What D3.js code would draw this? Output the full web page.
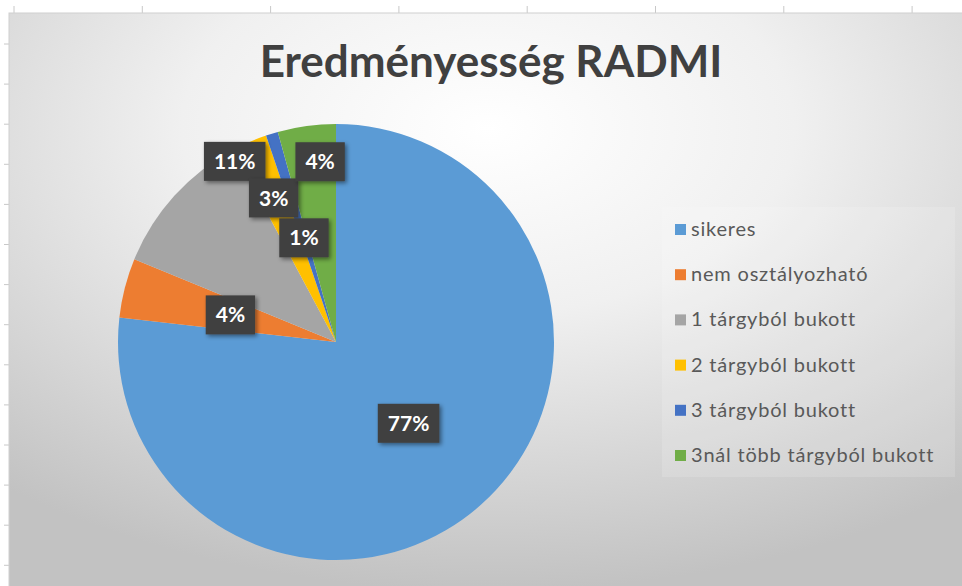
<html>
    <head>
        <meta charset="utf-8">
        <style>
            body { margin: 0; background: #ffffff; }
        </style>
    </head>
    <body>
        <svg id="cont" width="962" height="586"></svg>

        <script src="https://cdn.jsdelivr.net/npm/d3@7"></script>
        <script>
            // chart data
            var title = "Eredményesség RADMI";
            var categories = ["sikeres", "nem osztályozható", "1 tárgyból bukott", "2 tárgyból bukott", "3 tárgyból bukott", "3nál több tárgyból bukott"];
            var values = [76.8, 4.4, 11.0, 2.6, 0.9, 4.3];
            var colors = ["#5b9bd5", "#ed7d31", "#a5a5a5", "#ffc000", "#4472c4", "#70ad47"];

            // where each data label sits (Excel "best fit" nudges)
            var labelRadius = [0.5, 0.5, 0.95, 0.72, 0.5, 0.83];
            var labelShift = [0, 0, 18.6, 0, 0, 2.7];

            var svg = d3.select("#cont");
            var W = 962, H = 586;
            var chartX = 9, chartY = 13;

            var defs = svg.append("defs");
            var grad = defs.append("radialGradient")
                    .attr("id", "bg")
                    .attr("cx", 0.5).attr("cy", 0.2).attr("r", 0.8)
                    .attr("fx", 0.5).attr("fy", 0.2);
            grad.append("stop").attr("offset", "0%").attr("stop-color", "#ffffff");
            grad.append("stop").attr("offset", "40%").attr("stop-color", "#f0f0f0");
            grad.append("stop").attr("offset", "100%").attr("stop-color", "#c2c2c2");

            var shadow = defs.append("filter").attr("id", "lblShadow")
                    .attr("x", "-30%").attr("y", "-30%").attr("width", "160%").attr("height", "160%");
            shadow.append("feDropShadow")
                    .attr("dx", 2).attr("dy", 2).attr("stdDeviation", 2)
                    .attr("flood-color", "#000").attr("flood-opacity", 0.45);

            // spreadsheet ticks around the chart
            var colTicks = d3.range(14, W, 128.3);
            svg.selectAll(".ctick").data(colTicks).enter().append("line")
                .attr("x1", d => d).attr("x2", d => d)
                .attr("y1", 6).attr("y2", 13)
                .attr("stroke", "#c8c8c8");
            var rowTicks = d3.range(44, H, 40.1);
            svg.selectAll(".rtick").data(rowTicks).enter().append("line")
                .attr("x1", 4).attr("x2", 10)
                .attr("y1", d => d).attr("y2", d => d)
                .attr("stroke", "#c8c8c8");

            // chart area
            svg.append("rect")
                .attr("x", chartX).attr("y", chartY)
                .attr("width", W - chartX + 5).attr("height", H - chartY + 5)
                .attr("fill", "url(#bg)")
                .attr("stroke", "#cfcfcf");

            svg.append("text")
                .attr("x", 491).attr("y", 77)
                .attr("text-anchor", "middle")
                .style("font-family", "Lato, 'Open Sans', sans-serif")
                .style("font-weight", "bold")
                .style("font-size", "44px")
                .attr("fill", "#404040")
                .text(title);

            var cx = 336, cy = 342, r = 218;

            var data = categories.map((c, i) => ({name: c, value: values[i], color: colors[i], idx: i}));
            var total = d3.sum(values);

            var pie = d3.pie()
                    .sort(null)
                    .value(d => d.value);

            var arc = d3.arc()
                    .innerRadius(0)
                    .outerRadius(r);

            var g = svg.append("g")
                    .attr("transform", "translate(" + cx + "," + cy + ")");

            g.selectAll(".slice")
                .data(pie(data))
                .enter()
                .append("path")
                .attr("class", "slice")
                .attr("d", arc)
                .attr("fill", d => d.data.color);

            // data labels
            var lbl = g.selectAll(".lbl")
                    .data(pie(data))
                    .enter()
                    .append("g")
                    .attr("class", "lbl")
                    .attr("transform", d => {
                        var i = d.data.idx;
                        var mid = (d.startAngle + d.endAngle) / 2 + labelShift[i] * Math.PI / 180;
                        var rr = r * labelRadius[i];
                        return "translate(" + (rr * Math.sin(mid)) + "," + (-rr * Math.cos(mid)) + ")";
                    });

            lbl.append("rect")
                .attr("fill", "#404040")
                .attr("filter", "url(#lblShadow)");

            lbl.append("text")
                .attr("text-anchor", "middle")
                .attr("dy", "0.36em")
                .style("font-family", "Lato, 'Open Sans', sans-serif")
                .style("font-weight", "bold")
                .style("font-size", "21px")
                .attr("fill", "#ffffff")
                .text(d => Math.round(d.data.value / total * 100) + "%");

            lbl.each(function() {
                var t = d3.select(this).select("text").node().getComputedTextLength();
                var bw = t + 20, bh = 39;
                d3.select(this).select("rect")
                    .attr("x", -bw / 2).attr("y", -bh / 2)
                    .attr("width", bw).attr("height", bh);
            });

            // legend
            var legend = svg.append("g");
            legend.append("rect")
                .attr("x", 662).attr("y", 207)
                .attr("width", 293).attr("height", 270)
                .attr("fill", "#ffffff").attr("fill-opacity", 0.15);

            var ly = d3.scalePoint()
                    .domain(categories)
                    .range([229, 455]);

            var item = legend.selectAll(".item")
                    .data(data)
                    .enter()
                    .append("g")
                    .attr("transform", d => "translate(675," + ly(d.name) + ")");

            item.append("rect")
                .attr("x", 0).attr("y", -5)
                .attr("width", 11).attr("height", 11)
                .attr("fill", d => d.color);

            item.append("text")
                .attr("x", 16).attr("dy", "0.35em")
                .style("font-family", "Lato, 'Open Sans', sans-serif")
                .style("font-size", "20px")
                .style("letter-spacing", "0.8px")
                .attr("fill", "#595959")
                .text(d => d.name);
        </script>
    </body>

</html>
